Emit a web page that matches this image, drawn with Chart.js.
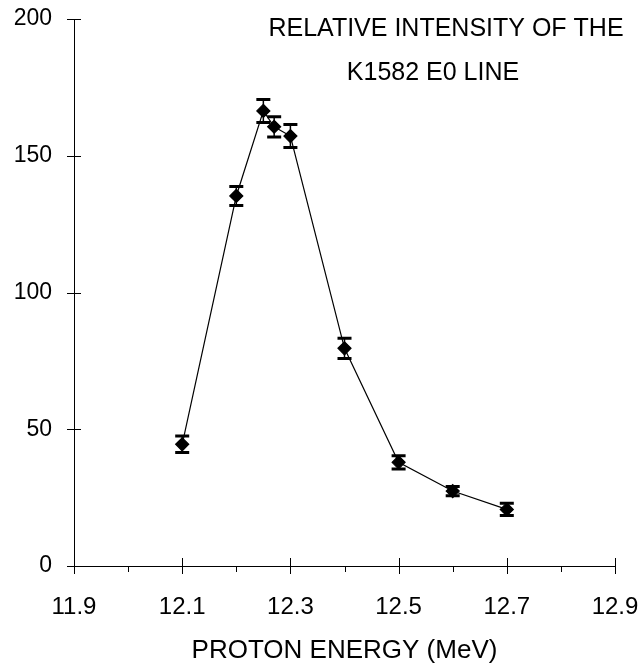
<!DOCTYPE html>
<html lang="en">
<head>
  <meta charset="UTF-8">
  <title>Relative Intensity of the K1582 E0 Line</title>
  <script src="https://cdn.jsdelivr.net/npm/chart.js"></script>
  <style>
    html, body {
      margin: 0;
      padding: 0;
      background-color: white;
    }
    .chart-box {
      width: 639px;
      height: 664px;
    }
  </style>
</head>
<body>
  <div class="chart-box">
    <canvas id="intensityChart"></canvas>
  </div>

  <script>
    // Data
    const energies = [12.1, 12.2, 12.25, 12.27, 12.3, 12.4, 12.5, 12.6, 12.7];
    const intensity = [44.5, 135.3, 166.4, 160.6, 157.2, 79.6, 37.9, 27.4, 20.7];
    const errors = [3.0, 3.5, 4.2, 3.7, 4.2, 3.7, 2.4, 1.7, 2.2];
    const titleLines = ['RELATIVE INTENSITY OF THE', 'K1582 E0 LINE'];

    const points = energies.map((e, i) => ({ x: e, y: intensity[i] }));
    const font = 'Liberation Sans, Arial, sans-serif';

    // Error bars with wide caps
    const errorBars = {
      id: 'errorBars',
      afterDatasetsDraw(chart) {
        const ctx = chart.ctx;
        const xs = chart.scales.x;
        const ys = chart.scales.y;
        ctx.save();
        ctx.strokeStyle = '#000';
        energies.forEach((e, i) => {
          const px = xs.getPixelForValue(e);
          const top = ys.getPixelForValue(intensity[i] + errors[i]);
          const bot = ys.getPixelForValue(intensity[i] - errors[i]);
          ctx.lineWidth = 1.5;
          ctx.beginPath();
          ctx.moveTo(px, top);
          ctx.lineTo(px, bot);
          ctx.stroke();
          ctx.lineWidth = 3;
          ctx.beginPath();
          ctx.moveTo(px - 7, top);
          ctx.lineTo(px + 7, top);
          ctx.moveTo(px - 7, bot);
          ctx.lineTo(px + 7, bot);
          ctx.stroke();
        });
        ctx.restore();
      }
    };

    // Tick marks crossing the axes, plus minor x ticks
    const axisTicks = {
      id: 'axisTicks',
      afterDraw(chart) {
        const ctx = chart.ctx;
        const xs = chart.scales.x;
        const ys = chart.scales.y;
        const area = chart.chartArea;
        ctx.save();
        ctx.strokeStyle = '#000';
        ctx.lineWidth = 1;
        ys.ticks.forEach(t => {
          const py = Math.round(ys.getPixelForValue(t.value)) + 0.5;
          ctx.beginPath();
          ctx.moveTo(area.left - 7, py);
          ctx.lineTo(area.left + 7, py);
          ctx.stroke();
        });
        xs.ticks.forEach(t => {
          const px = Math.round(xs.getPixelForValue(t.value)) + 0.5;
          const major = Math.round(t.value * 10) % 2 === 1;
          const first = Math.abs(t.value - xs.min) < 1e-6;
          ctx.beginPath();
          ctx.moveTo(px, area.bottom + (major ? 8 : 6));
          ctx.lineTo(px, area.bottom - (major && !first ? 8 : 0));
          ctx.stroke();
        });
        ctx.restore();
      }
    };

    // Caption inside the plot, top right
    const caption = {
      id: 'caption',
      afterDraw(chart) {
        const ctx = chart.ctx;
        ctx.save();
        ctx.fillStyle = '#000';
        ctx.font = '25px ' + font;
        ctx.textAlign = 'center';
        ctx.textBaseline = 'middle';
        ctx.fillText(titleLines[0], 446, 29);
        ctx.fillText(titleLines[1], 433, 73);
        ctx.restore();
      }
    };

    new Chart(document.getElementById('intensityChart'), {
      type: 'line',
      data: {
        datasets: [{
          data: points,
          borderColor: '#000',
          borderWidth: 1.2,
          backgroundColor: '#000',
          pointStyle: 'rectRot',
          pointRadius: 6.5,
          pointHoverRadius: 6.5,
          tension: 0
        }]
      },
      plugins: [errorBars, axisTicks, caption],
      options: {
        responsive: true,
        maintainAspectRatio: false,
        animation: false,
        layout: {
          padding: { top: 19, right: 0, left: 0, bottom: 0 }
        },
        plugins: {
          legend: { display: false },
          tooltip: { enabled: false }
        },
        scales: {
          x: {
            type: 'linear',
            min: 11.9,
            max: 12.9,
            afterFit(scale) {
              scale.height = 98;
              scale.paddingLeft = 0;
              scale.paddingRight = 24;
            },
            grid: { display: false, drawTicks: false },
            border: { display: true, color: '#000', width: 1 },
            ticks: {
              stepSize: 0.1,
              autoSkip: false,
              maxRotation: 0,
              padding: 27,
              color: '#000',
              font: { family: font, size: 24 },
              callback: v => (Math.round(v * 10) % 2 === 1 ? v.toFixed(1) : '')
            },
            title: {
              display: true,
              text: 'PROTON ENERGY (MeV)',
              color: '#000',
              font: { family: font, size: 26, lineHeight: 1 },
              padding: { top: 0, bottom: 0 }
            }
          },
          y: {
            min: 0,
            max: 200,
            afterFit(scale) {
              scale.width = 74;
              scale.paddingTop = 0;
              scale.paddingBottom = 0;
            },
            grid: { display: false, drawTicks: false },
            border: { display: true, color: '#000', width: 1 },
            ticks: {
              stepSize: 50,
              padding: 22,
              color: '#000',
              font: { family: font, size: 23 }
            }
          }
        }
      }
    });
  </script>
</body>
</html>
